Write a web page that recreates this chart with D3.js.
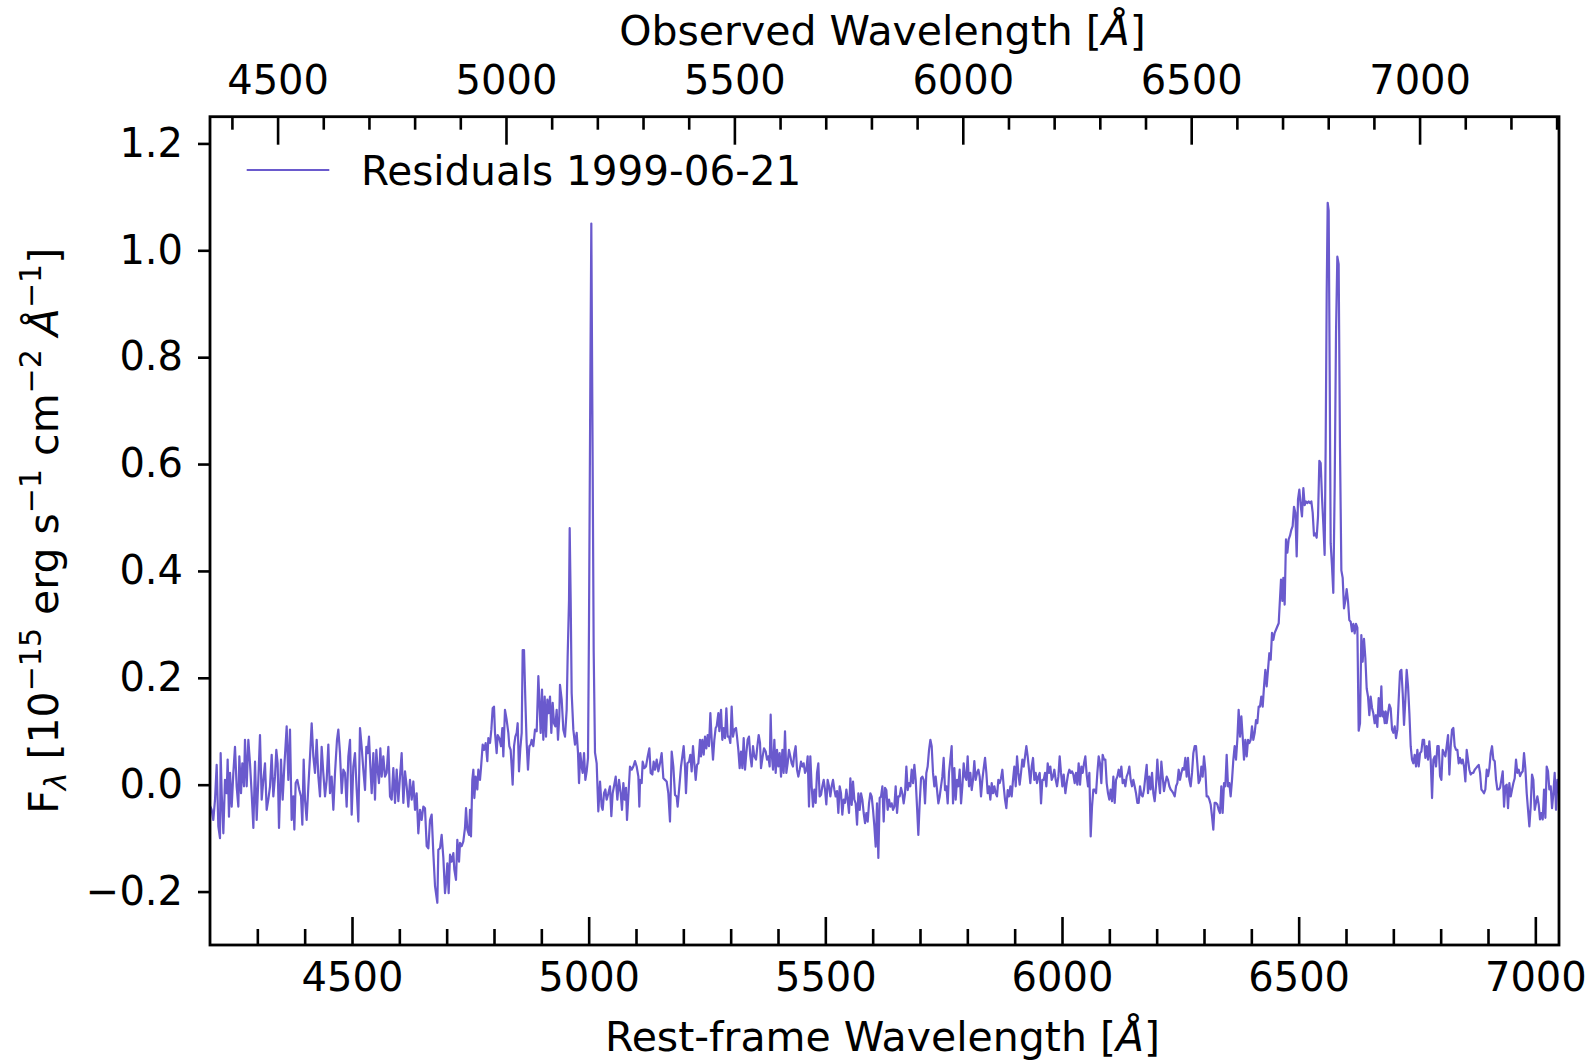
<!DOCTYPE html>
<html lang="en">
<head>
<meta charset="UTF-8">
<title>Residuals 1999-06-21</title>
<script src="https://d3js.org/d3.v7.min.js"></script>
<style>
  body { margin: 0; background: #fff; }
  svg { display: block; font-family: "DejaVu Sans", sans-serif; }
</style>
</head>
<body>
<div id="chart"></div>
<script>
// residual spectrum in pieces: [rest wavelength (Å), flux]
const seg4200 = [[4200.0,-0.04],[4203.5,-0.047],[4207.0,-0.066],[4210.6,-0.028],[4214.1,0.037],[4217.6,-0.078],[4221.1,-0.10],[4222.5,0.059],[4224.7,-0.016],[4228.2,-0.091],[4231.7,0.009],[4235.2,-0.016],[4237.3,0.047],[4240.1,-0.06],[4242.3,0.022],[4245.8,-0.041],[4249.3,0.022],[4252.8,0.071],[4256.3,-0.003],[4259.9,-0.041],[4262.0,0.053],[4265.5,-0.016],[4268.3,0.04],[4271.8,-0.003],[4273.9,0.084],[4277.5,-0.003],[4281.0,0.084],[4284.5,0.04],[4288.0,-0.016],[4291.6,-0.081],[4295.1,0.043],[4298.6,-0.066],[4302.1,0.009],[4305.6,0.093],[4309.2,-0.028],[4312.7,0.009],[4316.2,0.04],[4319.7,-0.047],[4323.2,-0.028],[4326.8,-0.003],[4330.3,0.056],[4333.8,-0.022],[4337.3,0.015],[4340.1,0.065],[4342.9,0.04],[4345.8,-0.081],[4350.0,0.047],[4353.5,-0.028],[4357.0,0.034],[4362.0,0.109],[4365.5,0.009],[4369.0,0.103],[4372.5,-0.066],[4376.0,-0.022],[4378.2,-0.084],[4381.0,0.003],[4384.5,0.009],[4388.7,-0.01],[4392.3,-0.022],[4395.1,-0.075],[4397.9,0.047],[4400.7,-0.028],[4404.2,-0.066],[4407.8,-0.003],[4411.3,0.053],[4414.8,0.115],[4418.3,0.053],[4421.8,0.022],[4425.4,0.084],[4428.9,0.015],[4432.4,-0.022],[4435.9,0.071],[4439.4,0.022],[4443.0,-0.022],[4446.5,0.009],[4450.0,0.075],[4453.5,-0.016],[4457.0,0.015],[4460.6,-0.047],[4464.1,0.022],[4468.3,0.084],[4471.1,0.103],[4474.6,0.059],[4478.2,-0.016],[4481.7,0.028],[4485.2,0.022],[4488.7,-0.041],[4492.3,0.053],[4495.8,0.084],[4499.3,-0.056],[4502.8,0.034],[4506.3,0.059],[4509.9,-0.01],[4513.4,-0.069],[4516.9,0.106],[4520.4,0.071],[4523.9,0.028],[4527.5,-0.01],[4530.3,0.071],[4533.1,0.059],[4535.9,0.09],[4538.0,0.047],[4541.6,-0.016],[4545.1,0.059],[4548.6,-0.028],[4551.4,0.065],[4554.2,0.028],[4557.0,0.003],[4559.9,0.068],[4562.7,0.015],[4566.2,0.053],[4569.7,0.015],[4573.2,0.022],[4576.8,0.071],[4580.3,-0.022],[4583.8,-0.028],[4587.3,0.031],[4590.9,-0.034],[4594.4,0.028],[4597.9,-0.031],[4601.4,0.015],[4604.9,0.059],[4608.5,-0.034],[4612.0,0.025],[4615.5,-0.003],[4619.0,-0.041],[4622.5,0.009],[4626.1,-0.028],[4629.6,0.006],[4633.1,-0.047],[4636.6,-0.016],[4640.1,-0.091],[4643.7,-0.047],[4647.2,-0.066],[4650.7,-0.041]];

const seg4650 = [[4654.2,-0.044],[4657.8,-0.115],[4661.3,-0.119],[4664.8,-0.066],[4668.3,-0.056],[4671.8,-0.128],[4675.4,-0.19],[4678.9,-0.212],[4680.3,-0.221],[4682.4,-0.122],[4685.9,-0.119],[4689.4,-0.094],[4693.0,-0.137],[4696.5,-0.203],[4698.6,-0.184],[4701.4,-0.147],[4704.2,-0.203],[4707.1,-0.131],[4710.6,-0.144],[4714.1,-0.128],[4716.2,-0.159],[4719.7,-0.178],[4722.5,-0.103],[4726.1,-0.144],[4728.2,-0.109],[4731.7,-0.115],[4735.2,-0.106],[4738.7,-0.081],[4740.9,-0.044],[4743.7,-0.084],[4747.2,-0.094],[4749.3,-0.047],[4751.4,-0.097],[4754.2,0.009],[4756.4,0.028],[4758.5,-0.025],[4761.3,0.015],[4764.8,-0.009],[4766.9,0.028],[4770.4,0.009],[4772.5,0.031],[4776.1,0.075],[4778.9,0.065],[4782.4,0.078],[4785.9,0.044],[4788.0,0.087],[4791.6,0.078],[4794.4,0.103],[4797.2,0.143],[4800.0,0.146],[4802.1,0.097],[4805.6,0.059],[4807.8,0.093],[4811.3,0.087],[4814.8,0.072],[4817.6,0.106],[4819.7,0.053],[4823.2,0.14],[4826.8,0.121],[4830.3,0.097],[4832.4,0.072],[4835.2,0.065],[4837.3,0.034],[4839.4,0.0],[4842.3,0.072],[4845.1,0.09],[4847.9,0.097],[4850.0,0.115],[4852.8,0.025],[4855.6,0.068],[4858.5,0.097],[4860.6,0.252],[4863.4,0.252],[4866.2,0.159],[4869.0,0.078],[4871.8,0.028],[4874.7,0.072],[4877.5,0.075],[4879.6,0.084],[4883.1,0.072],[4886.6,0.103],[4890.2,0.1],[4893.7,0.203],[4895.8,0.159],[4898.6,0.097],[4901.4,0.178],[4904.2,0.084],[4907.1,0.165],[4909.9,0.09],[4912.7,0.159],[4915.5,0.134],[4918.3,0.165],[4921.1,0.097],[4924.0,0.153],[4926.8,0.115],[4929.6,0.109],[4932.4,0.14],[4935.2,0.084],[4938.0,0.128],[4939.4,0.187],[4943.0,0.159],[4946.5,0.103],[4950.0,0.09],[4953.5,0.14],[4955.6,0.24],[4958.5,0.346],[4959.9,0.48],[4962.0,0.346],[4964.1,0.171],[4967.6,0.103],[4971.1,0.075],[4974.7,0.097],[4977.5,0.059],[4979.6,0.003],[4982.4,0.059],[4985.2,0.034],[4987.3,0.022],[4990.2,0.059],[4993.0,0.009],[4995.8,0.025],[4998.6,0.05],[5000.7,0.30],[5003.5,0.75],[5005.6,1.05],[5007.8,0.70],[5010.6,0.25],[5013.4,0.06],[5016.9,0.04],[5020.4,-0.05],[5024.0,0.006],[5027.5,-0.041],[5029.6,-0.047],[5032.4,-0.016],[5035.2,-0.009],[5038.0,-0.028],[5041.6,-0.016],[5045.1,-0.003],[5047.9,-0.059],[5050.7,-0.016],[5053.5,-0.003],[5057.1,0.015],[5060.6,-0.028],[5064.1,0.009],[5067.6,-0.016],[5070.4,-0.047],[5073.3,0.003],[5076.1,-0.028],[5078.9,-0.006],[5081.0,-0.066],[5083.8,-0.022],[5087.3,0.034],[5090.9,0.028],[5094.4,0.034],[5097.9,0.044],[5101.4,0.034],[5105.0,0.015],[5107.1,-0.041]];

const seg5100 = [[5108.5,0.009],[5112.0,0.003],[5114.1,0.043],[5117.6,0.031],[5121.1,0.034],[5124.7,0.053],[5128.2,0.068],[5131.0,0.022],[5134.5,0.019],[5137.3,0.043],[5140.2,0.028],[5143.7,0.047],[5147.2,0.025],[5150.7,0.04],[5154.2,0.059],[5157.8,0.012],[5161.3,0.009],[5164.8,0.006],[5168.3,-0.016],[5171.8,-0.069],[5175.4,0.062],[5178.9,0.034],[5182.4,-0.019],[5185.9,-0.022],[5188.0,-0.041],[5191.6,-0.003],[5195.1,0.034],[5197.9,0.053],[5200.7,0.072],[5203.5,0.034],[5205.6,-0.016],[5208.5,0.04],[5212.0,0.043],[5214.8,0.056],[5217.6,0.025],[5220.4,0.072],[5223.3,0.04],[5226.1,0.009],[5228.9,0.037],[5231.7,0.04],[5235.2,0.084],[5237.3,0.053],[5240.2,0.084],[5243.0,0.056],[5245.8,0.09],[5248.6,0.068],[5251.4,0.093],[5254.2,0.072],[5257.1,0.134],[5259.9,0.084],[5262.7,0.047],[5265.5,0.084],[5268.3,0.106],[5270.4,0.109],[5274.0,0.134],[5276.1,0.1],[5279.6,0.14],[5282.4,0.084],[5285.2,0.106],[5288.0,0.087],[5290.9,0.143],[5293.7,0.09],[5296.5,0.09],[5299.3,0.078],[5302.1,0.146],[5304.9,0.09],[5307.8,0.103],[5311.3,0.106],[5313.4,0.09],[5316.2,0.065],[5319.0,0.031],[5321.8,0.062],[5324.7,0.031],[5327.5,0.087],[5330.3,0.028],[5333.1,0.059],[5335.9,0.084],[5338.7,0.09],[5341.6,0.053],[5344.4,0.034],[5347.2,0.072],[5350.0,0.053],[5353.5,0.047],[5356.4,0.072],[5359.2,0.093],[5362.0,0.078],[5364.1,0.031],[5367.6,0.053],[5370.4,0.068],[5374.0,0.062],[5376.8,0.047],[5379.6,0.053],[5382.4,0.034],[5384.5,0.131],[5386.6,0.059],[5389.5,0.028],[5392.3,0.084],[5395.1,0.022],[5397.9,0.065],[5400.7,0.034],[5403.5,0.059],[5406.4,0.015],[5409.2,0.065],[5412.0,0.022],[5414.8,0.1],[5417.6,0.022],[5420.4,0.04],[5423.2,0.065],[5426.1,0.053],[5428.9,0.04],[5431.7,0.034],[5434.5,0.059],[5437.3,0.072],[5440.2,0.028],[5443.0,0.015],[5445.8,0.028],[5448.6,0.043],[5451.4,0.034],[5454.2,0.04],[5457.1,0.022],[5459.9,0.028],[5462.7,0.053],[5465.5,-0.041],[5468.3,0.053],[5471.1,-0.003],[5474.0,-0.041],[5476.8,-0.009],[5479.6,-0.034],[5482.4,0.022],[5485.2,0.04],[5488.0,-0.022],[5490.9,-0.019],[5493.7,-0.003],[5496.5,0.009],[5499.3,-0.009],[5502.1,-0.037],[5504.9,0.009],[5507.8,-0.003],[5510.6,-0.022],[5513.4,-0.003],[5516.2,0.009],[5519.0,-0.009],[5521.8,-0.022],[5524.7,-0.012],[5527.5,-0.053],[5530.3,-0.003],[5533.1,-0.016],[5535.9,-0.056],[5538.7,-0.028],[5541.6,-0.034],[5544.4,-0.009],[5547.2,-0.028],[5550.0,-0.053]];

const seg5550 = [[5552.9,0.012],[5555.7,-0.038],[5558.5,0.006],[5561.3,-0.028],[5564.1,-0.035],[5567.0,-0.075],[5569.8,-0.016],[5572.6,-0.047],[5575.4,-0.016],[5578.2,-0.028],[5581.0,-0.053],[5583.9,-0.072],[5586.7,-0.053],[5589.5,-0.069],[5592.3,-0.035],[5595.1,-0.016],[5597.9,-0.022],[5600.8,-0.047],[5603.6,-0.078],[5606.4,-0.116],[5609.2,-0.035],[5612.0,-0.137],[5614.8,-0.025],[5617.7,-0.022],[5620.5,-0.003],[5623.3,-0.069],[5626.1,-0.006],[5628.9,-0.01],[5631.7,-0.047],[5634.6,-0.028],[5637.4,-0.041],[5640.2,-0.035],[5643.0,-0.047],[5645.8,-0.041],[5648.6,-0.003],[5651.5,-0.053],[5654.3,-0.022],[5657.1,-0.022],[5659.9,-0.006],[5662.7,-0.016],[5665.5,-0.035],[5668.4,-0.016],[5671.2,0.034],[5674.0,-0.01],[5676.8,0.003],[5679.6,-0.003],[5682.4,0.028],[5685.3,0.003],[5688.1,0.037],[5690.9,0.009],[5693.7,-0.041],[5696.5,-0.094],[5699.3,-0.035],[5702.2,0.012],[5705.0,0.015],[5707.8,0.009],[5710.6,-0.035],[5713.4,0.022],[5716.2,0.034],[5719.1,0.065],[5721.9,0.084],[5724.7,0.072],[5727.5,0.022],[5730.3,-0.003],[5733.1,0.015],[5736.0,-0.01],[5738.8,-0.035],[5741.6,-0.022],[5744.4,-0.003],[5747.2,0.015],[5750.0,0.05],[5752.9,-0.01],[5755.7,-0.003],[5758.5,-0.035],[5761.3,0.022],[5764.1,0.047],[5766.9,0.072],[5769.8,-0.035],[5772.6,0.031],[5775.4,-0.028],[5778.2,0.009],[5781.0,-0.003],[5783.8,0.028],[5786.7,-0.035],[5789.5,-0.003],[5792.3,0.04],[5795.1,0.015],[5797.9,0.009],[5800.7,0.053],[5803.6,-0.003],[5806.4,0.022],[5809.2,-0.01],[5812.0,0.009],[5814.8,0.044],[5817.6,0.009],[5820.5,0.022],[5823.3,0.028],[5826.1,0.015],[5828.9,-0.022],[5831.7,0.009],[5834.6,0.031],[5837.4,0.05],[5840.2,0.022],[5843.0,-0.016],[5845.8,-0.003],[5848.6,-0.028],[5851.5,0.003],[5854.3,-0.016],[5857.1,-0.003],[5859.9,-0.016],[5862.7,-0.022],[5865.5,0.009],[5868.4,0.003],[5871.2,0.012],[5874.0,0.028],[5876.8,-0.003],[5879.6,-0.028],[5882.4,-0.044],[5885.3,-0.01],[5888.1,-0.022],[5890.9,-0.003],[5893.7,-0.022],[5896.5,0.009],[5899.3,0.034],[5902.2,-0.003],[5905.0,0.053],[5907.8,0.022],[5910.6,0.0],[5913.4,0.022],[5916.2,0.047],[5919.1,0.034],[5921.9,0.053],[5924.7,0.072],[5927.5,0.053],[5930.3,0.028],[5933.1,0.003],[5936.0,0.034],[5938.8,0.05],[5941.6,0.009],[5944.4,0.022],[5947.2,0.003],[5950.0,0.015],[5952.9,0.022],[5955.7,-0.035],[5958.5,0.009],[5961.3,0.009],[5964.1,0.022],[5966.9,-0.003],[5969.8,0.04],[5972.6,0.022],[5975.4,0.034],[5978.2,0.009],[5981.0,0.015],[5983.8,0.028],[5986.7,0.009],[5989.5,-0.003],[5992.3,0.015],[5995.1,0.053],[5997.9,0.022],[6000.8,-0.003],[6003.6,0.019]];

const seg6000 = [[6007.1,-0.016],[6009.9,0.003],[6012.7,0.019],[6015.5,0.028],[6018.3,0.022],[6021.2,0.025],[6024.0,0.019],[6026.8,0.003],[6029.6,0.022],[6032.4,0.0],[6035.2,0.04],[6038.1,0.0],[6040.9,0.034],[6043.7,0.022],[6046.5,0.04],[6049.3,0.053],[6052.1,0.019],[6055.0,-0.003],[6057.8,0.022],[6060.6,-0.097],[6063.4,-0.041],[6066.2,-0.009],[6069.0,-0.009],[6071.9,-0.016],[6074.7,0.022],[6077.5,0.053],[6080.3,0.04],[6083.1,0.003],[6085.9,0.056],[6088.8,0.047],[6091.6,0.047],[6094.4,0.003],[6097.2,-0.016],[6100.0,-0.028],[6102.8,-0.009],[6105.7,-0.031],[6108.5,0.015],[6111.3,-0.034],[6114.1,0.009],[6116.9,0.015],[6119.7,0.028],[6122.6,0.015],[6125.4,0.034],[6128.2,0.003],[6131.0,0.009],[6133.8,-0.003],[6136.6,0.015],[6139.5,0.022],[6142.3,0.034],[6145.1,0.009],[6147.9,-0.003],[6150.7,0.009],[6153.5,-0.003],[6156.4,-0.016],[6159.2,-0.034],[6162.0,-0.034],[6164.8,-0.003],[6167.6,-0.019],[6170.4,-0.022],[6173.3,-0.009],[6176.1,0.015],[6178.9,0.037],[6181.7,-0.016],[6184.5,0.015],[6187.3,-0.009],[6190.2,0.022],[6193.0,-0.016],[6195.8,-0.031],[6198.6,-0.003],[6201.4,0.047],[6204.2,0.009],[6207.1,-0.016],[6209.9,0.043],[6212.7,0.015],[6215.5,-0.012],[6218.3,0.003],[6221.2,0.015],[6224.0,0.009],[6226.8,-0.003],[6229.6,-0.009],[6232.4,-0.012],[6235.2,-0.016],[6238.1,-0.022],[6240.9,-0.003],[6243.7,0.003],[6246.5,0.028],[6249.3,0.009],[6252.1,0.022],[6254.9,0.031],[6257.8,0.028],[6260.6,0.05],[6263.4,0.015],[6266.2,0.05],[6269.0,0.009],[6271.8,-0.003],[6274.7,0.022],[6277.5,0.059],[6280.3,0.072],[6283.1,0.072],[6285.9,0.04],[6288.7,0.003],[6291.6,0.009],[6294.4,0.034],[6297.2,0.015],[6300.0,0.053],[6302.8,0.028],[6305.6,-0.022],[6308.5,-0.022],[6311.3,-0.028],[6314.1,-0.037],[6316.9,-0.059],[6319.7,-0.084],[6322.5,-0.034],[6325.4,-0.034],[6328.2,-0.037],[6331.0,-0.047],[6333.8,-0.053],[6336.6,-0.003],[6339.4,-0.053],[6342.3,0.003],[6345.1,-0.003],[6347.9,0.056],[6350.7,-0.003],[6353.5,0.003],[6356.3,-0.022],[6359.2,0.009],[6362.0,0.047],[6364.8,0.072],[6367.6,0.047],[6370.4,0.084],[6373.2,0.14],[6376.1,0.09],[6378.9,0.128],[6381.7,0.09],[6384.5,0.047],[6387.3,0.084],[6390.2,0.053],[6393.0,0.084],[6395.8,0.078],[6398.6,0.084],[6401.4,0.109],[6404.2,0.084],[6407.1,0.097],[6409.9,0.121],[6412.7,0.115],[6415.5,0.146],[6418.3,0.146],[6421.1,0.165],[6424.0,0.146],[6426.8,0.184],[6429.6,0.215],[6432.4,0.184],[6435.2,0.215],[6438.0,0.246],[6440.9,0.234],[6443.7,0.284],[6446.5,0.271],[6449.3,0.284],[6452.1,0.29],[6454.9,0.296],[6457.8,0.302]];

const seg6460 = [[6462.7,0.384],[6465.5,0.344],[6467.6,0.387],[6470.4,0.337],[6473.2,0.459],[6476.1,0.434],[6478.9,0.459],[6481.7,0.466],[6484.5,0.477],[6487.3,0.484],[6490.1,0.52],[6493.0,0.509],[6495.8,0.427],[6498.6,0.534],[6501.4,0.552],[6504.2,0.523],[6507.0,0.502],[6509.9,0.555],[6512.7,0.523],[6515.5,0.53],[6518.3,0.527],[6521.1,0.53],[6523.9,0.527],[6526.8,0.53],[6529.6,0.509],[6532.4,0.466],[6535.2,0.47],[6538.0,0.462],[6540.9,0.502],[6543.7,0.606],[6546.5,0.602],[6549.3,0.538],[6552.1,0.487],[6554.9,0.43],[6557.0,0.631],[6559.2,0.917],[6561.3,1.089],[6563.4,1.074],[6565.5,0.774],[6567.6,0.452],[6570.4,0.409],[6573.2,0.359],[6576.1,0.559],[6578.9,0.845],[6581.7,0.988],[6584.5,0.974],[6587.3,0.631],[6590.2,0.401],[6593.0,0.387],[6595.8,0.33],[6598.6,0.344],[6601.4,0.366],[6604.2,0.344],[6607.0,0.308],[6609.9,0.305],[6612.7,0.287],[6615.5,0.301],[6618.3,0.283],[6621.1,0.301],[6624.0,0.294],[6626.8,0.101],[6629.6,0.115],[6632.4,0.28],[6635.2,0.23],[6638.0,0.273],[6640.9,0.237],[6643.7,0.18],[6646.5,0.165],[6649.3,0.13],[6652.1,0.165],[6654.9,0.144],[6657.8,0.133],[6660.6,0.115],[6663.4,0.13],[6666.2,0.108],[6669.0,0.162]];

const seg6670 = [[6671.9,0.128],[6674.7,0.184],[6676.8,0.128],[6678.9,0.137],[6681.8,0.115],[6683.9,0.137],[6686.0,0.115],[6688.8,0.134],[6691.6,0.15],[6694.4,0.143],[6697.3,0.103],[6700.1,0.097],[6702.9,0.109],[6705.7,0.087],[6708.5,0.103],[6711.3,0.159],[6714.2,0.212],[6717.0,0.215],[6719.8,0.171],[6722.6,0.112],[6725.4,0.159],[6728.2,0.215],[6731.1,0.184],[6733.9,0.134],[6736.7,0.072],[6739.5,0.047],[6742.3,0.04],[6745.1,0.056],[6748.0,0.034],[6750.8,0.065],[6753.6,0.034],[6756.4,0.059],[6759.2,0.062],[6762.0,0.084],[6764.9,0.084],[6767.7,0.05],[6770.5,0.072],[6773.3,0.047],[6776.1,0.081],[6778.9,0.047],[6781.8,-0.025],[6784.6,0.047],[6787.4,0.053],[6790.2,0.034],[6793.0,0.072],[6795.8,0.072],[6798.7,0.016],[6801.5,0.009],[6804.3,0.065],[6807.1,0.059],[6809.9,0.053],[6812.7,0.072],[6815.6,0.093],[6818.4,0.019],[6821.2,0.072],[6824.0,0.103],[6826.8,0.106],[6829.6,0.072],[6832.5,0.065],[6835.3,0.065],[6838.1,0.04],[6840.9,0.05],[6843.7,0.04],[6846.5,0.047],[6849.4,0.034],[6852.2,0.006],[6855.0,0.065],[6857.8,0.047],[6860.6,0.028],[6863.4,0.019],[6866.3,0.022],[6869.1,0.022],[6871.9,0.028],[6874.7,0.031],[6877.5,0.034],[6880.4,0.037],[6883.2,0.022],[6886.0,-0.009],[6888.8,-0.012],[6891.6,-0.016],[6894.4,-0.009],[6897.3,0.028],[6900.1,0.016],[6902.9,0.031],[6905.7,0.059],[6908.5,0.072],[6911.3,0.047],[6914.2,0.044],[6917.0,0.009],[6919.8,-0.009],[6922.6,-0.009],[6925.4,-0.006],[6928.2,0.009],[6931.1,0.025],[6933.9,-0.041],[6936.7,-0.003],[6939.5,0.0],[6942.3,-0.044],[6945.1,0.003],[6948.0,-0.022],[6950.8,-0.009],[6953.6,0.003],[6956.4,0.012],[6959.2,0.047],[6962.0,0.022],[6964.9,0.028],[6967.7,0.016],[6970.5,0.022],[6973.3,0.025],[6976.1,0.059],[6978.9,0.031],[6981.8,-0.016],[6984.6,-0.047],[6987.4,-0.078],[6990.2,-0.041],[6993.0,0.019],[6995.8,0.009],[6998.7,-0.047],[7001.5,-0.034],[7004.3,-0.022],[7007.1,-0.037],[7009.9,-0.065],[7012.7,-0.053],[7015.6,-0.065],[7018.4,-0.009],[7021.2,-0.062],[7024.0,0.034],[7026.8,0.025],[7029.6,-0.009],[7032.5,-0.003],[7035.3,-0.044],[7038.1,-0.016],[7040.9,0.022],[7043.7,-0.047],[7046.5,0.009],[7049.3,-0.016]];

const redshift = 0.0362;
const restRange = [4200, 7050];
const fluxRange = [-0.3, 1.25];
const restTicks = [4500, 5000, 5500, 6000, 6500, 7000];
const obsTicks = [4500, 5000, 5500, 6000, 6500, 7000];
const fluxTicks = [-0.2, 0.0, 0.2, 0.4, 0.6, 0.8, 1.0, 1.2];
const legendLabel = "Residuals 1999-06-21";

const spectrum = [].concat(seg4200, seg4650, seg5100, seg5550, seg6000, seg6460, seg6670);

const width = 1590, height = 1061;
const plot = { left: 210, right: 1559, top: 116.7, bottom: 945 };
const lineColor = "#6a5acd";
const fontSize = 40;
const titleSize = 41;

const x = d3.scaleLinear().domain(restRange).range([plot.left, plot.right]);
const xObs = d3.scaleLinear()
  .domain(restRange.map(d => d * (1 + redshift)))
  .range([plot.left, plot.right]);
const y = d3.scaleLinear().domain(fluxRange).range([plot.bottom, plot.top]);

const svg = d3.select("#chart").append("svg")
  .attr("width", width)
  .attr("height", height);

// spectrum
svg.append("path")
  .datum(spectrum)
  .attr("fill", "none")
  .attr("stroke", lineColor)
  .attr("stroke-width", 2.2)
  .attr("stroke-linejoin", "round")
  .attr("d", d3.line().x(d => x(d[0])).y(d => y(d[1])));

function styleAxis(g) {
  g.select(".domain").remove();
  g.selectAll(".tick line").attr("stroke", "#000").attr("stroke-width", 2.6);
  g.selectAll(".tick text")
    .attr("fill", "#000")
    .style("font-size", fontSize + "px")
    .style("font-family", "'DejaVu Sans', sans-serif");
}

// bottom: rest frame, ticks pointing in
svg.append("g")
  .attr("transform", `translate(0,${plot.bottom})`)
  .call(d3.axisBottom(x).tickValues(d3.range(4300, 7001, 100).filter(v => v % 500)).tickSize(-16).tickFormat(""))
  .call(styleAxis);
svg.append("g")
  .attr("transform", `translate(0,${plot.bottom})`)
  .call(d3.axisBottom(x).tickValues(restTicks).tickSize(-28).tickPadding(18).tickFormat(d3.format("d")))
  .call(styleAxis);

// top: observed frame, ticks pointing in
svg.append("g")
  .attr("transform", `translate(0,${plot.top})`)
  .call(d3.axisTop(xObs).tickValues(d3.range(4400, 7301, 100).filter(v => v % 500)).tickSize(-13).tickFormat(""))
  .call(styleAxis);
svg.append("g")
  .attr("transform", `translate(0,${plot.top})`)
  .call(d3.axisTop(xObs).tickValues(obsTicks).tickSize(-28).tickPadding(23).tickFormat(d3.format("d")))
  .call(styleAxis);

// left: flux, ticks pointing out
svg.append("g")
  .attr("transform", `translate(${plot.left},0)`)
  .call(d3.axisLeft(y).tickValues(fluxTicks).tickSize(12).tickPadding(15).tickFormat(d3.format(".1f")))
  .call(styleAxis);

// frame
svg.append("rect")
  .attr("x", plot.left).attr("y", plot.top)
  .attr("width", plot.right - plot.left).attr("height", plot.bottom - plot.top)
  .attr("fill", "none")
  .attr("stroke", "#000")
  .attr("stroke-width", 2.8);

// axis titles
const midX = (plot.left + plot.right) / 2;
const bottomTitle = svg.append("text")
  .attr("x", midX - 2).attr("y", 1051)
  .attr("text-anchor", "middle")
  .style("font-size", titleSize + "px");
bottomTitle.append("tspan").text("Rest-frame Wavelength [");
bottomTitle.append("tspan").style("font-style", "italic").text("Å");
bottomTitle.append("tspan").text("]");

const topTitle = svg.append("text")
  .attr("x", midX - 2).attr("y", 45)
  .attr("text-anchor", "middle")
  .style("font-size", titleSize + "px");
topTitle.append("tspan").text("Observed Wavelength [");
topTitle.append("tspan").style("font-style", "italic").text("Å");
topTitle.append("tspan").text("]");

const yTitle = svg.append("text")
  .attr("transform", `translate(58,${(plot.top + plot.bottom) / 2}) rotate(-90)`)
  .attr("text-anchor", "middle")
  .style("font-size", titleSize + "px");
const small = "30px";
yTitle.append("tspan").text("F");
yTitle.append("tspan").attr("dy", 8).style("font-size", small).style("font-style", "italic").text("λ");
yTitle.append("tspan").attr("dy", -8).text(" [10");
yTitle.append("tspan").attr("dy", -17).style("font-size", small).text("−15");
yTitle.append("tspan").attr("dy", 17).text(" erg s");
yTitle.append("tspan").attr("dy", -17).style("font-size", small).text("−1");
yTitle.append("tspan").attr("dy", 17).text(" cm");
yTitle.append("tspan").attr("dy", -17).style("font-size", small).text("−2");
yTitle.append("tspan").attr("dy", 17).text(" ");
yTitle.append("tspan").style("font-style", "italic").text("Å");
yTitle.append("tspan").attr("dy", -17).style("font-size", small).text("−1");
yTitle.append("tspan").attr("dy", 17).text("]");

// legend
const legend = svg.append("g");
legend.append("line")
  .attr("x1", 246.7).attr("x2", 329.3)
  .attr("y1", 170).attr("y2", 170)
  .attr("stroke", lineColor)
  .attr("stroke-width", 2.2);
legend.append("text")
  .attr("x", 361).attr("y", 185)
  .style("font-size", "40.5px")
  .text(legendLabel);
</script>
</body>
</html>
